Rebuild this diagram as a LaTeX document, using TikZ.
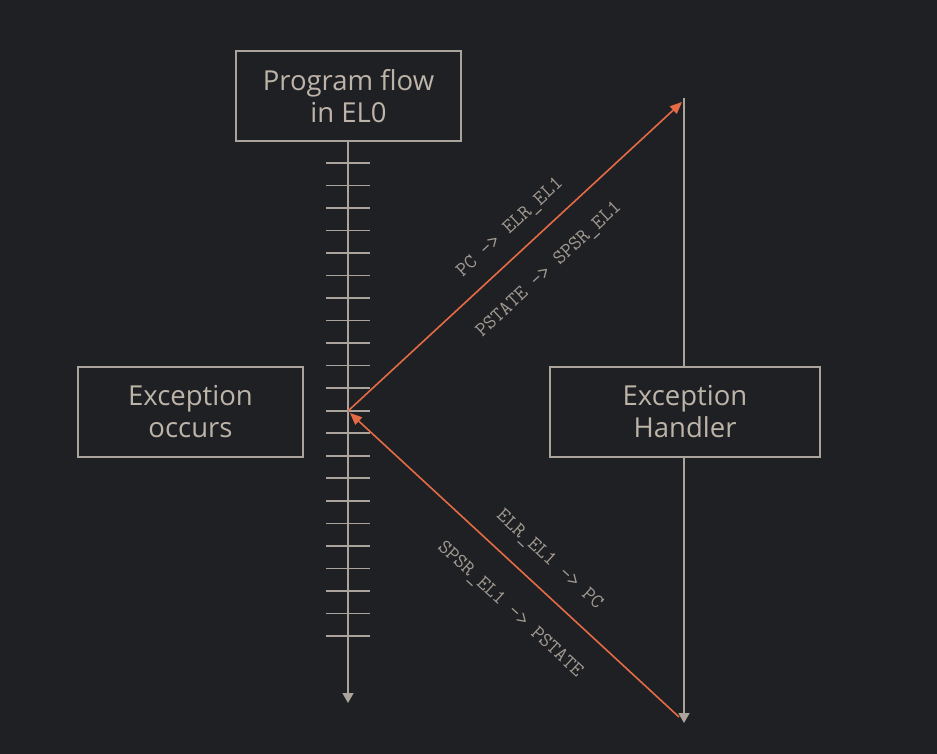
\documentclass[tikz,border=0pt]{standalone}
\usepackage{fontspec}
\setmainfont{Open Sans}
\usetikzlibrary{arrows.meta, positioning}
\definecolor{bgcol}{HTML}{1F2023}
\definecolor{linecol}{HTML}{ABA49C}
\definecolor{textcol}{HTML}{BDB4A9}
\definecolor{labcol}{HTML}{A19A92}
\definecolor{exccol}{HTML}{E46B45}

\begin{document}
\begin{tikzpicture}[x=1pt,y=-1pt,>=Stealth,
	box/.style={draw=linecol,line width=1.6pt,fill=bgcol,text=textcol,align=center,
		minimum width=225pt,minimum height=90pt,font=\fontsize{27.5}{32}\selectfont},
	flow/.style={draw=linecol,line width=1.6pt},
	exc/.style={draw=exccol,line width=1.6pt},
	regname/.style={text=labcol,font=\ttfamily\fontsize{20.5}{22}\selectfont,sloped,inner sep=0pt}]
			\fill[bgcol] (0,0) rectangle (937,754);
			\useasboundingbox (0,0) rectangle (937,754);
			\node[box] (program) at (348.5,96) {Program flow\\in EL0};
			\node[box] (occurs) at (190.5,412) {Exception\\occurs};
			\node[box,minimum width=270pt] (handler) at (685,412) {Exception\\Handler};
			\coordinate (flowEnd) at (348,703);
			\coordinate (excPt) at (348,411);
			\coordinate (hTop) at (684,98);
			\coordinate (hBot) at (684,723);
			\coordinate (retStart) at (679,717);
			% instruction ticks
			\foreach \i in {0,...,21}
				\draw[flow] (326,163+\i*22.52) -- (370,163+\i*22.52);
			\draw[flow,-{Triangle[length=10pt,width=11pt]}] (program.south -| flowEnd) -- (flowEnd);
			\draw[flow] (hTop) -- (hTop |- handler.north);
			\draw[flow,-{Triangle[length=10pt,width=11pt]}] (hTop |- handler.south) -- (hBot);
			\draw[exc,-{Triangle[length=12pt,width=10pt]}] (excPt) -- (682,102)
				node[regname,pos=0.535,yshift=24pt]{PC -> ELR\_EL1}
				node[regname,pos=0.535,yshift=-33pt]{PSTATE -> SPSR\_EL1};
			\draw[exc,-{Triangle[length=12pt,width=10pt]}] (retStart) -- (350,413)
				node[regname,pos=0.45,yshift=27pt]{ELR\_EL1 -> PC}
				node[regname,pos=0.44,yshift=-36pt]{SPSR\_EL1 -> PSTATE};
		\end{tikzpicture}
\end{document}
